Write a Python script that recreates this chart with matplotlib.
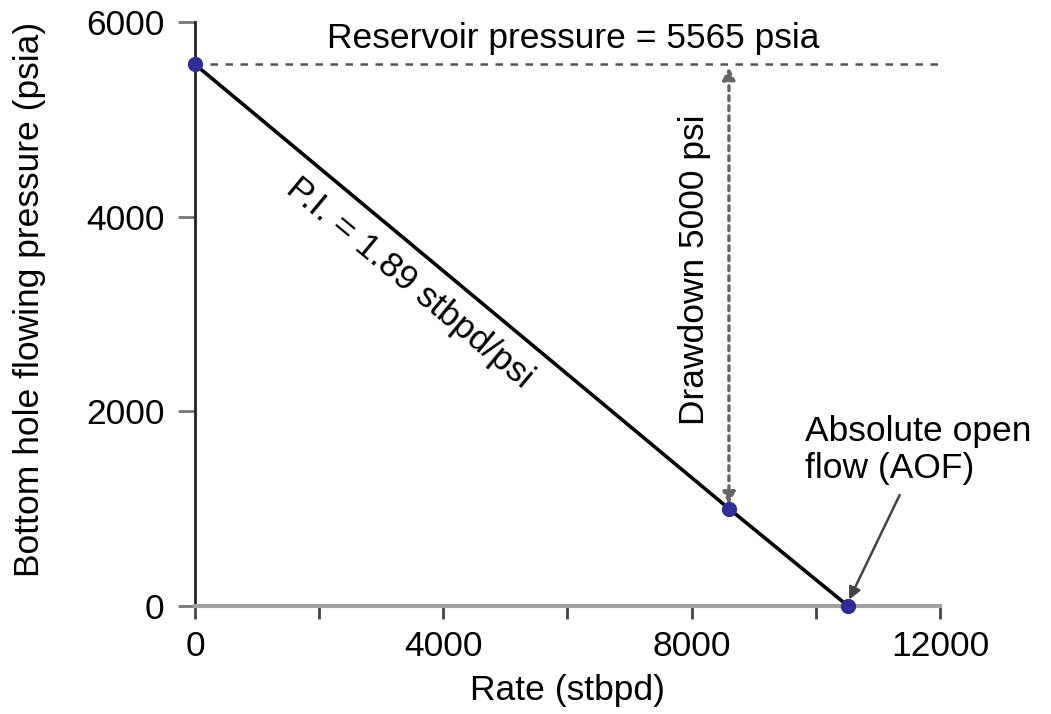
import matplotlib
matplotlib.use("Agg")
import matplotlib.pyplot as plt
import numpy as np

# --- datos ---
p_res = 5565          # psia
pi_val = 1.89         # stbpd/psi
pwf_test = 1000       # psia, punto de prueba
rate_test = 8600      # stbpd
aof = 10518           # stbpd

rates = [0, rate_test, aof]
pressures = [p_res, pwf_test, 0]

x_ticks = [0, 4000, 8000, 12000]
x_minor = [2000, 6000, 10000]
y_ticks = [0, 2000, 4000, 6000]

plt.rcParams['font.family'] = ['Liberation Sans', 'DejaVu Sans']
FS = 25.5

fig = plt.figure(figsize=(10.51, 7.14), dpi=100)
ax = fig.add_axes([0.1855, 0.1513, 0.7089, 0.8179])

# linea IPR
ax.plot(rates, pressures, color='black', lw=2.6, zorder=3)
ax.plot(rates, pressures, 'o', color='#2e2e96', ms=10, zorder=4, clip_on=False)

# presion de reservorio
ax.plot([0, 12000], [p_res, p_res], color='#555555', lw=1.8, ls=(0, (3, 3)), zorder=2)
ax.text(6100, 5830, "Reservoir pressure = 5565 psia", fontsize=FS,
        ha='center', va='center')

# drawdown
ax.annotate("", xy=(rate_test, p_res), xytext=(rate_test, pwf_test),
            arrowprops=dict(arrowstyle='<|-|>', color='#666666', lw=2.4,
                            ls=(0, (1.5, 1.5)), mutation_scale=18,
                            shrinkA=3, shrinkB=2))
ax.text(8050, 3450, "Drawdown 5000 psi", fontsize=FS, rotation=90,
        ha='center', va='center')

# indice de productividad
ax.text(3460, 3320, "P.I. = 1.89 stbpd/psi", fontsize=FS, rotation=-39.7,
        ha='center', va='center', rotation_mode='anchor')

# AOF
ax.text(9820, 1600, "Absolute open\nflow (AOF)", fontsize=FS,
        ha='left', va='center', linespacing=1.15)
ax.annotate("", xy=(aof, 40), xytext=(11350, 1140),
            arrowprops=dict(arrowstyle='-|>', color='#444444', lw=1.8,
                            mutation_scale=18, shrinkA=0, shrinkB=2))

ax.set_xlim(0, 12000)
ax.set_ylim(0, 6000)
ax.set_xticks(x_ticks)
ax.set_xticks(x_minor, minor=True)
ax.set_yticks(y_ticks)

ax.spines['top'].set_visible(False)
ax.spines['right'].set_visible(False)
ax.spines['left'].set_color('#222222')
ax.spines['left'].set_linewidth(2.0)
ax.spines['bottom'].set_color('#a0a0a0')
ax.spines['bottom'].set_linewidth(3.0)

ax.tick_params(axis='x', which='both', direction='out', length=9, width=2,
               color='#444444', labelsize=FS, pad=8)
ax.tick_params(axis='y', direction='out', length=12, width=2,
               color='#777777', labelsize=FS, pad=10)

ax.set_xlabel("Rate (stbpd)", fontsize=FS, labelpad=8)
ax.set_ylabel("Bottom hole flowing pressure (psia)", fontsize=FS)
ax.yaxis.set_label_coords(-0.2, 0.525)

fig.savefig("out.png", dpi=100)
